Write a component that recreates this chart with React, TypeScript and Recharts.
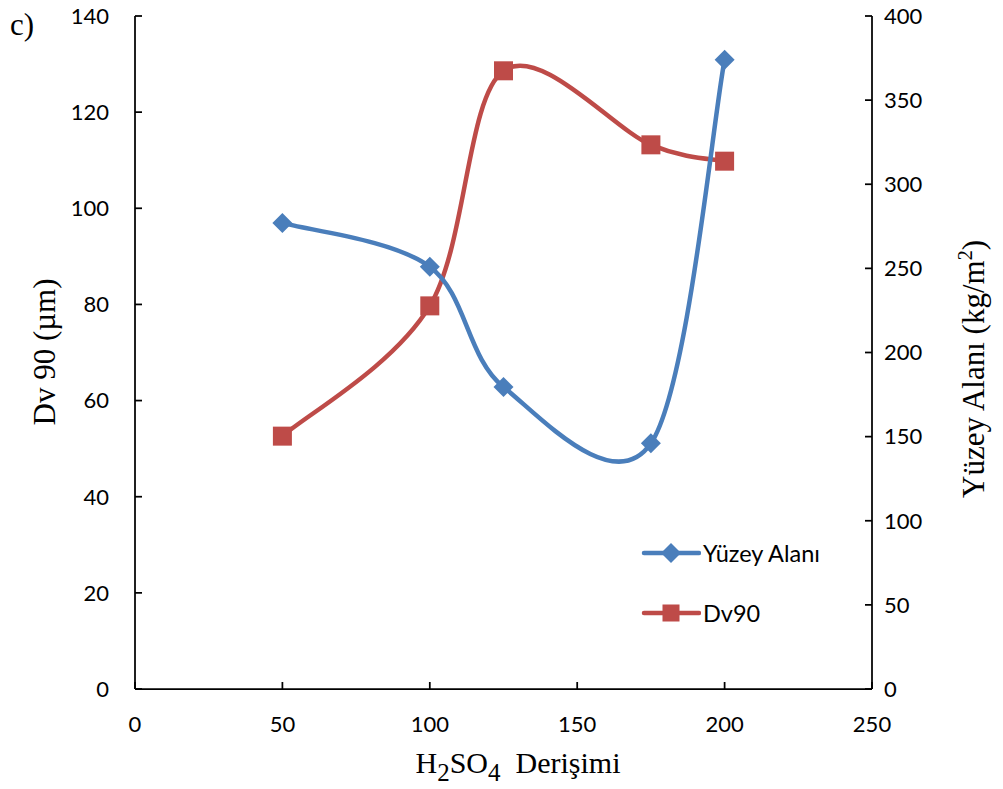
import { ComposedChart, Legend, Line, XAxis, YAxis } from "recharts";

// H2SO4 concentration (x)
const concentrations = [50, 100, 125, 175, 200];
// Yüzey Alanı (kg/m2) - right axis
const surfaceArea = [277, 251, 179.5, 146, 374];
// Dv 90 (µm) - left axis
const dv90 = [52.6, 79.7, 128.6, 113.2, 109.8];

const xTicks = [0, 50, 100, 150, 200, 250];
const leftTicks = [0, 20, 40, 60, 80, 100, 120, 140];
const rightTicks = [0, 50, 100, 150, 200, 250, 300, 350, 400];

const BLUE = "#4A7EBB";
const RED = "#BE4B48";
const SANS = "Lato, 'Noto Sans', sans-serif";
const SERIF = "'Liberation Serif', 'Times New Roman', serif";

const data = concentrations.map((c, i) => ({
  c,
  area: surfaceArea[i],
  dv90: dv90[i],
}));

// Excel-style smoothed line (Catmull-Rom, control points at 1/6 of neighbour span)
function excelSmooth(context: any) {
  let pts: number[][] = [];
  return {
    areaStart() {},
    areaEnd() {},
    lineStart() {
      pts = [];
    },
    point(x: number, y: number) {
      pts.push([+x, +y]);
    },
    lineEnd() {
      if (!pts.length) return;
      context.moveTo(pts[0][0], pts[0][1]);
      for (let i = 0; i < pts.length - 1; i++) {
        const p0 = pts[i - 1] || pts[i];
        const p1 = pts[i];
        const p2 = pts[i + 1];
        const p3 = pts[i + 2] || p2;
        context.bezierCurveTo(
          p1[0] + (p2[0] - p0[0]) / 6,
          p1[1] + (p2[1] - p0[1]) / 6,
          p2[0] - (p3[0] - p1[0]) / 6,
          p2[1] - (p3[1] - p1[1]) / 6,
          p2[0],
          p2[1]
        );
      }
    },
  };
}

function diamondPath(cx: number, cy: number, r: number) {
  return `M${cx},${cy - r}L${cx + r},${cy}L${cx},${cy + r}L${cx - r},${cy}Z`;
}

function DiamondDot(props: any) {
  const { cx, cy, index } = props;
  if (cx == null || cy == null) return null;
  return <path key={`dm-${index}`} d={diamondPath(cx, cy, 10)} fill={BLUE} />;
}

function SquareDot(props: any) {
  const { cx, cy, index } = props;
  if (cx == null || cy == null) return null;
  return (
    <rect key={`sq-${index}`} x={cx - 9.5} y={cy - 9.5} width={19} height={19} fill={RED} />
  );
}

function LegendBox() {
  const rows = [
    { name: "Yüzey Alanı", color: BLUE, marker: "diamond" },
    { name: "Dv90", color: RED, marker: "square" },
  ];
  return (
    <div>
      {rows.map((r) => (
        <div
          key={r.name}
          style={{ display: "flex", alignItems: "center", height: 60 }}
        >
          <svg width={60} height={24}>
            <line
              x1={3}
              y1={12}
              x2={58}
              y2={12}
              stroke={r.color}
              strokeWidth={4.5}
              strokeLinecap="round"
            />
            {r.marker === "diamond" ? (
              <path d={diamondPath(30, 12, 10)} fill={r.color} />
            ) : (
              <rect x={21.5} y={3.5} width={17} height={17} fill={r.color} />
            )}
          </svg>
          <span
            style={{
              fontFamily: SANS,
              fontSize: 23.5,
              color: "#000",
              marginLeft: 2,
              whiteSpace: "nowrap",
            }}
          >
            {r.name}
          </span>
        </div>
      ))}
    </div>
  );
}

const axisStroke = { stroke: "#000", strokeWidth: 1.75 };
const tickStyle = { fill: "#000", fontSize: 22, fontFamily: SANS };

export default function App() {
  return (
    <div style={{ position: "absolute", left: 0, top: 0, background: "#fff" }}>
      <ComposedChart
        width={1003}
        height={789}
        data={data}
        margin={{ top: 16, right: 0, bottom: 0, left: 0 }}
      >
        <XAxis
          dataKey="c"
          type="number"
          domain={[0, 250]}
          ticks={xTicks}
          interval={0}
          height={100}
          tickSize={-7}
          tickMargin={34}
          axisLine={axisStroke}
          tickLine={axisStroke}
          tick={tickStyle}
          label={{
            content: () => (
              <text
                x={518}
                y={773}
                textAnchor="middle"
                fontFamily={SERIF}
                fontSize={30}
                fill="#000"
              >
                H
                <tspan fontSize={25} dy={8}>2</tspan>
                <tspan dy={-8}>SO</tspan>
                <tspan fontSize={25} dy={8}>4</tspan>
                <tspan dy={-8}>{"\u00a0\u00a0Derişimi"}</tspan>
              </text>
            ),
          }}
        />
        <YAxis
          yAxisId="left"
          orientation="left"
          width={135}
          domain={[0, 140]}
          ticks={leftTicks}
          interval={0}
          tickSize={-7}
          tickMargin={33}
          axisLine={axisStroke}
          tickLine={axisStroke}
          tick={tickStyle}
          label={{
            content: () => (
              <g>
                <text
                  x={10}
                  y={35}
                  fontFamily={SERIF}
                  fontSize={31}
                  fill="#000"
                >
                  c)
                </text>
                <text
                  x={55}
                  y={352}
                  transform="rotate(-90, 55, 352)"
                  textAnchor="middle"
                  fontFamily={SERIF}
                  fontSize={31}
                  fill="#000"
                >
                  Dv 90 (µm)
                </text>
              </g>
            ),
          }}
        />
        <YAxis
          yAxisId="right"
          orientation="right"
          width={131}
          domain={[0, 400]}
          ticks={rightTicks}
          interval={0}
          tickSize={-7}
          tickMargin={19}
          axisLine={axisStroke}
          tickLine={axisStroke}
          tick={tickStyle}
          label={{
            content: () => (
              <text
                x={984}
                y={369}
                transform="rotate(-90, 984, 369)"
                textAnchor="middle"
                fontFamily={SERIF}
                fontSize={31}
                fill="#000"
              >
                Yüzey Alanı (kg/m
                <tspan fontSize={20} dy={-12}>2</tspan>
                <tspan dy={12}>)</tspan>
              </text>
            ),
          }}
        />
        <Legend
          layout="horizontal"
          verticalAlign="middle"
          align="center"
          wrapperStyle={{ left: 641, top: 523, width: 240 }}
          content={() => <LegendBox />}
        />
        <Line
          yAxisId="left"
          dataKey="dv90"
          name="Dv90"
          type={excelSmooth as any}
          stroke={RED}
          strokeWidth={4.5}
          strokeLinecap="round"
          strokeLinejoin="round"
          dot={SquareDot}
          activeDot={false}
          isAnimationActive={false}
        />
        <Line
          yAxisId="right"
          dataKey="area"
          name="Yüzey Alanı"
          type={excelSmooth as any}
          stroke={BLUE}
          strokeWidth={4.5}
          strokeLinecap="round"
          strokeLinejoin="round"
          dot={DiamondDot}
          activeDot={false}
          isAnimationActive={false}
        />
      </ComposedChart>
    </div>
  );
}
